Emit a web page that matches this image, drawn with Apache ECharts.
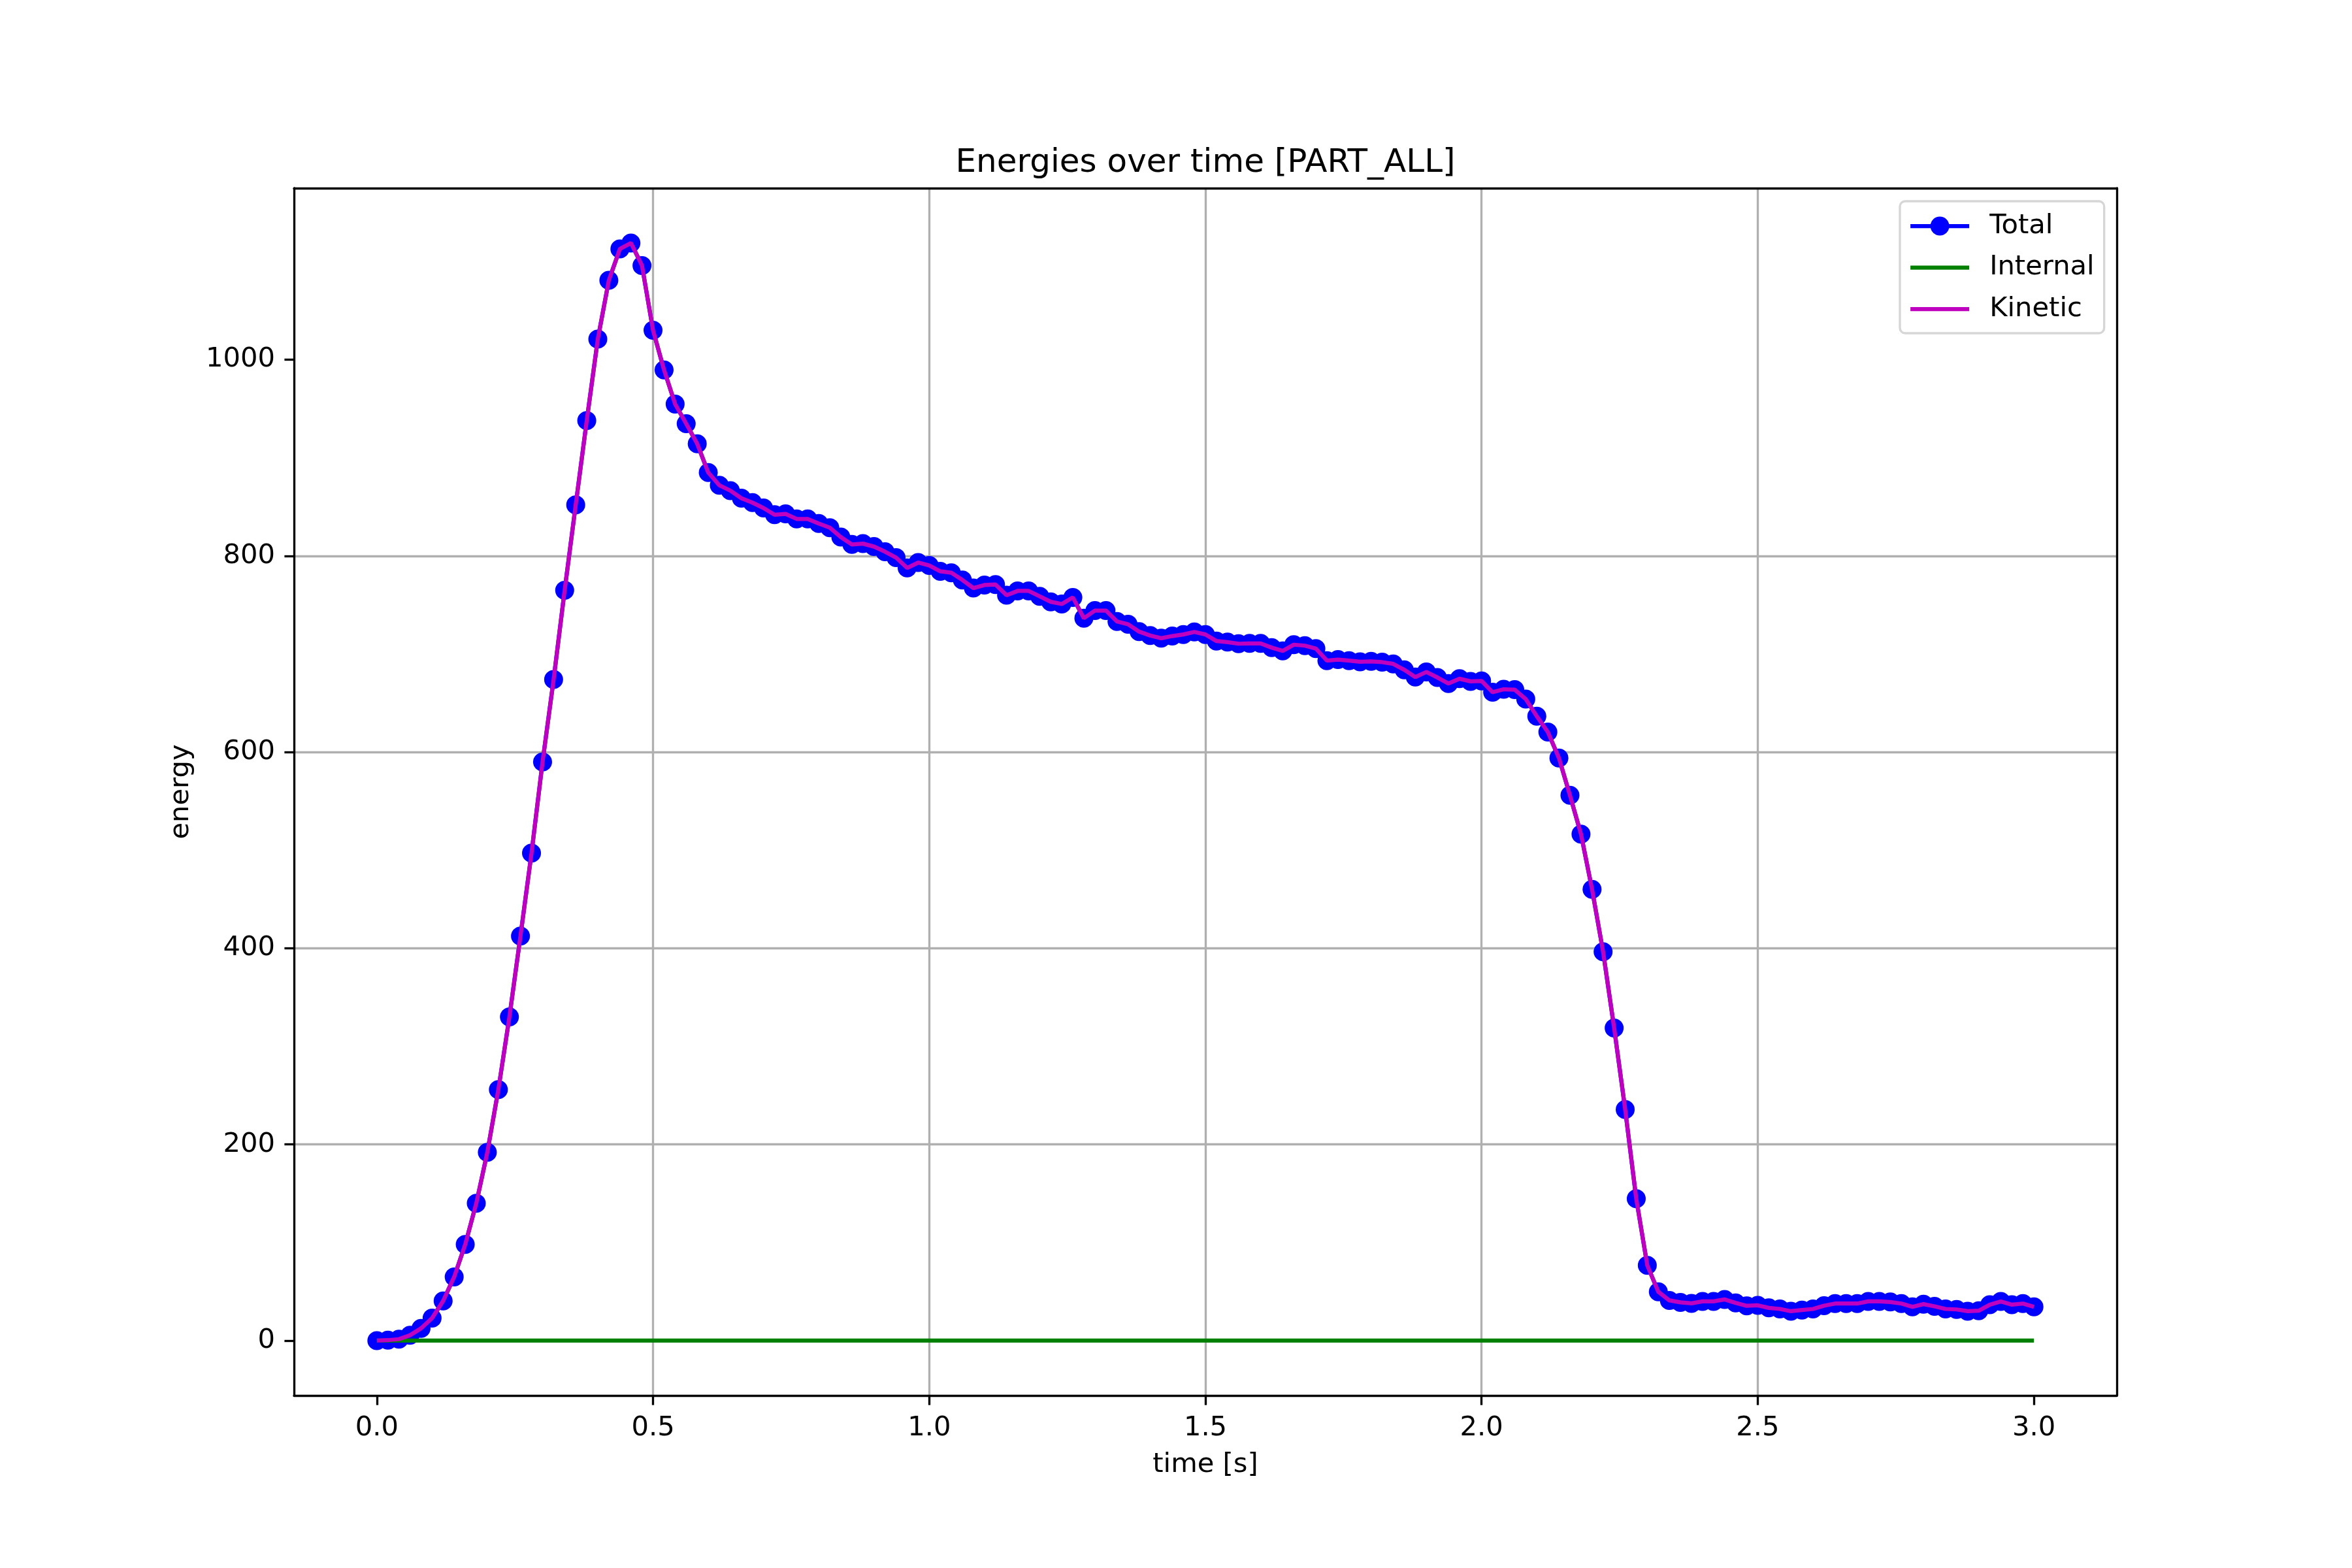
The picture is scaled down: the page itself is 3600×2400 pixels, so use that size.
<!DOCTYPE html>
<html><head><meta charset="utf-8">
<script src="https://cdn.jsdelivr.net/npm/echarts@6/dist/echarts.min.js"></script>
<style>html,body{margin:0;padding:0;background:#fff}#chart{width:3600px;height:2400px}</style>
</head><body><div id="chart"></div>
<script>
const titleText = 'Energies over time [PART_ALL]';
const xAxisName = 'time [s]';
const yAxisName = 'energy';
const seriesNames = ['Total', 'Internal', 'Kinetic'];
const xTickValues = [0, 0.5, 1, 1.5, 2, 2.5, 3];
const yTickValues = [0, 200, 400, 600, 800, 1000];

const timeSec = [
  0.00, 0.02, 0.04, 0.06, 0.08, 0.10, 0.12, 0.14, 0.16, 0.18,
  0.20, 0.22, 0.24, 0.26, 0.28, 0.30, 0.32, 0.34, 0.36, 0.38,
  0.40, 0.42, 0.44, 0.46, 0.48, 0.50, 0.52, 0.54, 0.56, 0.58,
  0.60, 0.62, 0.64, 0.66, 0.68, 0.70, 0.72, 0.74, 0.76, 0.78,
  0.80, 0.82, 0.84, 0.86, 0.88, 0.90, 0.92, 0.94, 0.96, 0.98,
  1.00, 1.02, 1.04, 1.06, 1.08, 1.10, 1.12, 1.14, 1.16, 1.18,
  1.20, 1.22, 1.24, 1.26, 1.28, 1.30, 1.32, 1.34, 1.36, 1.38,
  1.40, 1.42, 1.44, 1.46, 1.48, 1.50, 1.52, 1.54, 1.56, 1.58,
  1.60, 1.62, 1.64, 1.66, 1.68, 1.70, 1.72, 1.74, 1.76, 1.78,
  1.80, 1.82, 1.84, 1.86, 1.88, 1.90, 1.92, 1.94, 1.96, 1.98,
  2.00, 2.02, 2.04, 2.06, 2.08, 2.10, 2.12, 2.14, 2.16, 2.18,
  2.20, 2.22, 2.24, 2.26, 2.28, 2.30, 2.32, 2.34, 2.36, 2.38,
  2.40, 2.42, 2.44, 2.46, 2.48, 2.50, 2.52, 2.54, 2.56, 2.58,
  2.60, 2.62, 2.64, 2.66, 2.68, 2.70, 2.72, 2.74, 2.76, 2.78,
  2.80, 2.82, 2.84, 2.86, 2.88, 2.90, 2.92, 2.94, 2.96, 2.98,
  3.00
];

const totalEnergy = [
  0, 0.5, 1.5, 5.5, 12.5, 23, 40.5, 65, 98, 140,
  192, 256, 330, 412.5, 497, 590, 674, 765, 852, 938,
  1021, 1081, 1113, 1119, 1096, 1030, 989.5, 954.8, 934.8, 914.3,
  885, 872, 866.5, 858.8, 854.3, 848.8, 842, 842.8, 837.7, 837.7,
  833, 828.8, 819.2, 811.7, 812.5, 809.5, 804.3, 798.3, 787.7, 793.2,
  790.3, 784.3, 782.8, 775.5, 767.2, 770.3, 770.8, 759.9, 764.3, 764.3,
  758.8, 753.2, 751, 757.7, 736.5, 744.3, 744.3, 733.2, 730.3, 722.8,
  718.8, 716.1, 718.3, 719.9, 722.5, 719.9, 713.2, 712.1, 710.5, 710.8,
  710.8, 706.5, 703.2, 709.5, 708.5, 705.5, 693.2, 694.3, 693.2, 692.1,
  692.5, 691.7, 689.9, 683.9, 676.5, 681.7, 676.1, 669.9, 674.8, 672.1,
  672.5, 661, 664, 663.7, 654, 636.5, 620.4, 594, 555.9, 516.3,
  460.1, 396.5, 318.7, 235.6, 144.7, 76.7, 49.8, 41, 39, 38,
  40, 40, 42, 38.5, 35.5, 36, 33.4, 32.3, 30, 31.2,
  32.3, 35.6, 37.8, 37.8, 37.8, 40, 40, 39.4, 37.8, 34.5,
  37.2, 35, 32.3, 31.8, 30, 30.5, 36.7, 40, 36.7, 37.8,
  34.5
];

const internalEnergy = [
  0, 0, 0, 0, 0, 0, 0, 0, 0, 0,
  0, 0, 0, 0, 0, 0, 0, 0, 0, 0,
  0, 0, 0, 0, 0, 0, 0, 0, 0, 0,
  0, 0, 0, 0, 0, 0, 0, 0, 0, 0,
  0, 0, 0, 0, 0, 0, 0, 0, 0, 0,
  0, 0, 0, 0, 0, 0, 0, 0, 0, 0,
  0, 0, 0, 0, 0, 0, 0, 0, 0, 0,
  0, 0, 0, 0, 0, 0, 0, 0, 0, 0,
  0, 0, 0, 0, 0, 0, 0, 0, 0, 0,
  0, 0, 0, 0, 0, 0, 0, 0, 0, 0,
  0, 0, 0, 0, 0, 0, 0, 0, 0, 0,
  0, 0, 0, 0, 0, 0, 0, 0, 0, 0,
  0, 0, 0, 0, 0, 0, 0, 0, 0, 0,
  0, 0, 0, 0, 0, 0, 0, 0, 0, 0,
  0, 0, 0, 0, 0, 0, 0, 0, 0, 0,
  0
];

const kineticEnergy = [
  0, 0.5, 1.5, 5.5, 12.5, 23, 40.5, 65, 98, 140,
  192, 256, 330, 412.5, 497, 590, 674, 765, 852, 938,
  1021, 1081, 1113, 1119, 1096, 1030, 989.5, 954.8, 934.8, 914.3,
  885, 872, 866.5, 858.8, 854.3, 848.8, 842, 842.8, 837.7, 837.7,
  833, 828.8, 819.2, 811.7, 812.5, 809.5, 804.3, 798.3, 787.7, 793.2,
  790.3, 784.3, 782.8, 775.5, 767.2, 770.3, 770.8, 759.9, 764.3, 764.3,
  758.8, 753.2, 751, 757.7, 736.5, 744.3, 744.3, 733.2, 730.3, 722.8,
  718.8, 716.1, 718.3, 719.9, 722.5, 719.9, 713.2, 712.1, 710.5, 710.8,
  710.8, 706.5, 703.2, 709.5, 708.5, 705.5, 693.2, 694.3, 693.2, 692.1,
  692.5, 691.7, 689.9, 683.9, 676.5, 681.7, 676.1, 669.9, 674.8, 672.1,
  672.5, 661, 664, 663.7, 654, 636.5, 620.4, 594, 555.9, 516.3,
  460.1, 396.5, 318.7, 235.6, 144.7, 76.7, 49.8, 41, 39, 38,
  40, 40, 42, 38.5, 35.5, 36, 33.4, 32.3, 30, 31.2,
  32.3, 35.6, 37.8, 37.8, 37.8, 40, 40, 39.4, 37.8, 34.5,
  37.2, 35, 32.3, 31.8, 30, 30.5, 36.7, 40, 36.7, 37.8,
  34.5
];

const FONT = 'DejaVu Sans';
const FS = 41.67;
const LW = 3.33;
const pairs = arr => timeSec.map((t, i) => [t, arr[i]]);
const lineIcon = 'path://M0,0H90V6.25H0Z';

const chart = echarts.init(document.getElementById('chart'), null, {renderer: 'canvas', width: 3600, height: 2400});

const spineOnly = {
  axisTick: {show: false}, axisLabel: {show: false}, splitLine: {show: false},
  axisLine: {show: true, onZero: false, lineStyle: {color: '#000', width: LW}}
};

const option = {
  animation: false,
  backgroundColor: '#ffffff',
  textStyle: {fontFamily: FONT},
  title: {
    text: titleText, left: 1845, top: 225, textAlign: 'center', padding: 0,
    textStyle: {fontFamily: FONT, fontSize: 50, fontWeight: 'normal', color: '#000'}
  },
  legend: {
    orient: 'vertical', left: 2908, top: 308, padding: [17, 15, 16, 13],
    itemWidth: 90, itemHeight: 36, itemGap: 21.5,
    backgroundColor: 'rgba(255,255,255,0.8)', borderColor: 'rgba(204,204,204,0.8)',
    borderWidth: LW, borderRadius: 8,
    textStyle: {fontFamily: FONT, fontSize: FS, color: '#000', lineHeight: 42, padding: [0, 0, 0, 26]},
    data: [
      {name: seriesNames[0], lineStyle: {width: 6.25, color: '#0000ff'}},
      {name: seriesNames[1], icon: lineIcon},
      {name: seriesNames[2], icon: lineIcon}
    ]
  },
  grid: {left: 450, right: 360, top: 288, bottom: 264, containLabel: false, outerBoundsMode: 'none'},
  xAxis: [
    {
      type: 'value', min: -0.15, max: 3.15, position: 'bottom',
      name: xAxisName, nameLocation: 'middle', nameGap: 85, nameMoveOverlap: false,
      nameTextStyle: {fontFamily: FONT, fontSize: FS, color: '#000'},
      axisLine: {show: true, onZero: false, lineStyle: {color: '#000', width: LW}},
      axisTick: {show: true, inside: false, length: 14.6, customValues: xTickValues, lineStyle: {color: '#000', width: LW}},
      axisLabel: {show: true, margin: 29, fontFamily: FONT, fontSize: FS, color: '#000', customValues: xTickValues,
        formatter: v => Number(v).toFixed(1)},
      splitLine: {show: true, showMinLine: false, showMaxLine: false, lineStyle: {color: '#b0b0b0', width: LW}}
    },
    Object.assign({type: 'value', min: -0.15, max: 3.15, position: 'top'}, spineOnly)
  ],
  yAxis: [
    {
      type: 'value', min: -55.95, max: 1174.9, position: 'left',
      name: yAxisName, nameLocation: 'middle', nameGap: 152, nameRotate: 90, nameMoveOverlap: false,
      nameTextStyle: {fontFamily: FONT, fontSize: FS, color: '#000'},
      axisLine: {show: true, onZero: false, lineStyle: {color: '#000', width: LW}},
      axisTick: {show: true, inside: false, length: 14.6, customValues: yTickValues, lineStyle: {color: '#000', width: LW}},
      axisLabel: {show: true, margin: 29, fontFamily: FONT, fontSize: FS, color: '#000', customValues: yTickValues,
        formatter: v => String(Math.round(v))},
      splitLine: {show: true, showMinLine: false, showMaxLine: false, lineStyle: {color: '#b0b0b0', width: LW}}
    },
    Object.assign({type: 'value', min: -55.95, max: 1174.9, position: 'right'}, spineOnly)
  ],
  series: [
    {
      name: seriesNames[0], type: 'line', xAxisIndex: 0, yAxisIndex: 0, data: pairs(totalEnergy),
      symbol: 'circle', symbolSize: 29, showSymbol: true, showAllSymbol: true,
      color: '#0000ff', itemStyle: {color: '#0000ff'}, lineStyle: {color: '#0000ff', width: 6.25},
      emphasis: {disabled: true}, z: 2
    },
    {
      name: seriesNames[1], type: 'line', xAxisIndex: 0, yAxisIndex: 0, data: pairs(internalEnergy),
      symbol: 'none', showSymbol: false,
      color: '#008000', itemStyle: {color: '#008000'}, lineStyle: {color: '#008000', width: 6.25},
      emphasis: {disabled: true}, z: 3
    },
    {
      name: seriesNames[2], type: 'line', xAxisIndex: 0, yAxisIndex: 0, data: pairs(kineticEnergy),
      symbol: 'none', showSymbol: false,
      color: '#bf00bf', itemStyle: {color: '#bf00bf'}, lineStyle: {color: '#bf00bf', width: 6.25},
      emphasis: {disabled: true}, z: 4
    }
  ]
};
chart.setOption(option);
</script>
</body></html>
